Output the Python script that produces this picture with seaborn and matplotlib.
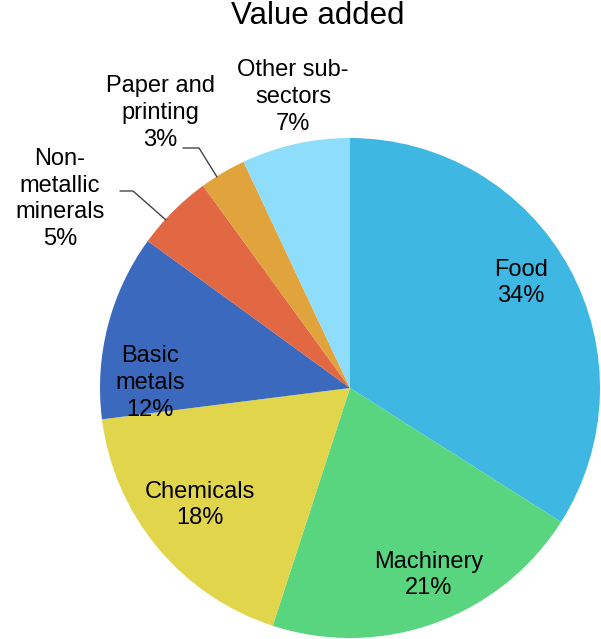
import matplotlib
matplotlib.use("Agg")
import matplotlib.pyplot as plt
import seaborn as sns

sectors = ["Food", "Machinery", "Chemicals", "Basic metals",
           "Non-metallic minerals", "Paper and printing", "Other sub-sectors"]
shares = [34, 21, 18, 12, 5, 3, 7]
label_texts = ["Food", "Machinery", "Chemicals", "Basic\nmetals",
               "Non-\nmetallic\nminerals", "Paper and\nprinting", "Other sub-\nsectors"]
colors = ["#3EB8E2", "#5AD57F", "#E1D54B", "#3A69BE",
          "#E16842", "#E1A43C", "#8EDDFB"]

sns.set_theme(style="white")
plt.rcParams["font.family"] = ["Liberation Sans", "DejaVu Sans"]

W, H = 601, 639
fig = plt.figure(figsize=(W / 100, H / 100), dpi=100)
ax = fig.add_axes([0, 0, 1, 1])

cx, cy, r = 350, H - 388, 250
ax.pie(shares, colors=colors, startangle=90, counterclock=False,
       center=(cx, cy), radius=r, frame=True,
       wedgeprops=dict(linewidth=0))
ax.set_xlim(0, W)
ax.set_ylim(0, H)
ax.set_aspect("equal")
ax.axis("off")

# label anchor positions (pixel space, y measured from top)
label_pos = [(521, 283), (429, 575), (200, 505), (150, 383),
             (60, 199), (160, 113), (293, 97)]
for txt, val, (px, py) in zip(label_texts, shares, label_pos):
    ax.text(px, H - py, f"{txt}\n{val}%", ha="center", va="center",
            fontsize=17, color="black", linespacing=1.27)

# leader lines for the two small outer labels
leaders = [
    [(120, 191), (133, 191), (166, 220)],
    [(183, 148), (199, 148), (217, 177)],
]
for pts in leaders:
    xs = [p[0] for p in pts]
    ys = [H - p[1] for p in pts]
    ax.plot(xs, ys, color="#444444", linewidth=1.0)

ax.text(318, H - 16, "Value added", ha="center", va="center",
        fontsize=22.5, color="black")

fig.savefig("out.png", dpi=100)
